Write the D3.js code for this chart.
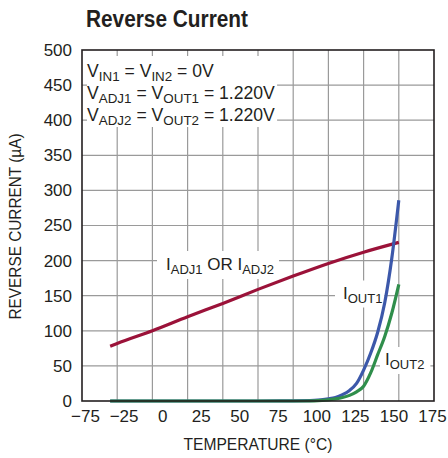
<!DOCTYPE html>
<html><head><meta charset="utf-8">
<script src="https://cdn.jsdelivr.net/npm/d3@7"></script>
<style>
body{margin:0;background:#fff}
svg{display:block}
text{font-family:"Liberation Sans",Arial,Helvetica,sans-serif;fill:#231f20}
</style>
</head><body>
<svg id="chart" width="448" height="458"></svg>
<script>
// ---- data ----
const tempDomain = [-75, 175];
const currentDomain = [0, 500];
const tempGridStep = 25;
const xTickLabels = ["\u221275","\u221225","0","25","50","75","100","125","150","175"];
const yTickValues = [0,50,100,150,200,250,300,350,400,450,500];

const iadjTemp    = [-55,-50,-25,0,25,50,75,100,125,150];
const iadjCurrent = [78,82,100,120,139,159,178,196,212,226];

const ioutTemp     = [-55,0,50,75,90,100,105,110,115,120,125,130,135,140,145,150];
const iout1Current = [0,0,0,0.2,0.8,3,5,9,15,25,44,68,98,140,203,286];
const iout2Current = [0,0,0,0,0.3,1.5,3,5,8,13,21,40,66,92,125,166];

const titleText = "Reverse Current";
const xTitle = "TEMPERATURE (\u00B0C)";
const yTitle = "REVERSE CURRENT (\u00B5A)";

// ---- layout ----
const svg = d3.select("#chart");
const L = 82, R = 434, T = 50, B = 401;
const x = d3.scaleLinear().domain(tempDomain).range([L, R]);
const y = d3.scaleLinear().domain(currentDomain).range([B, T]);
const xLab = d3.scalePoint().domain(xTickLabels).range([85, 432]);

const colors = {adj:"#9b1239", out1:"#3c58aa", out2:"#2f8e4b"};
const gridColor = "#9a9a9a";

// grid
const gridT = d3.range(tempDomain[0], tempDomain[1] + 1, tempGridStep).filter(t => t > tempDomain[0] && t < tempDomain[1]);
svg.append("g").selectAll("line").data(gridT).join("line")
  .attr("x1", d => x(d)).attr("x2", d => x(d)).attr("y1", T).attr("y2", B)
  .attr("stroke", gridColor).attr("stroke-width", 1.2);
svg.append("g").selectAll("line").data(yTickValues.filter(v => v > currentDomain[0] && v < currentDomain[1])).join("line")
  .attr("x1", L).attr("x2", R).attr("y1", d => y(d)).attr("y2", d => y(d))
  .attr("stroke", gridColor).attr("stroke-width", 1.2);

// y tick labels
svg.append("g").attr("transform", `translate(${L},0)`)
  .call(d3.axisLeft(y).tickValues(yTickValues).tickSize(0).tickPadding(10))
  .call(g => g.select(".domain").remove())
  .call(g => g.selectAll("text").attr("font-size", 17).attr("font-family", null).attr("fill", "#231f20"));

// x tick labels
svg.append("g").attr("transform", `translate(0,${B})`)
  .call(d3.axisBottom(xLab).tickSize(0).tickPadding(9))
  .call(g => g.select(".domain").remove())
  .call(g => g.selectAll("text").attr("font-size", 17).attr("font-family", null).attr("fill", "#231f20"));

// rich text helper (subscripts)
function rich(g, px, py, parts, size, subSize) {
  const t = g.append("text").attr("x", px).attr("y", py).attr("font-size", size);
  let lowered = false;
  parts.forEach(([s, sub]) => {
    const ts = t.append("tspan").text(s);
    if (sub && !lowered) { ts.attr("dy", 4).attr("font-size", subSize); lowered = true; }
    else if (sub) { ts.attr("font-size", subSize); }
    else if (!sub && lowered) { ts.attr("dy", -4); lowered = false; }
  });
  return t;
}
function boxed(parent, px, py, parts, padL, padR, padT, padB) {
  const g = parent.append("g");
  const rect = g.append("rect").attr("fill", "#fff");
  const t = rich(g, px, py, parts, 17, 13);
  const bb = t.node().getBBox();
  rect.attr("x", bb.x - padL).attr("y", bb.y - padT)
      .attr("width", bb.width + padL + padR).attr("height", bb.height + padT + padB);
  return g;
}

// annotation box
const ann = svg.append("g");
const annRect = ann.append("rect").attr("fill", "#fff");
const annLines = [
  [["V"],["IN1",1],[" = V"],["IN2",1],[" = 0V"]],
  [["V"],["ADJ1",1],[" = V"],["OUT1",1],[" = 1.220V"]],
  [["V"],["ADJ2",1],[" = V"],["OUT2",1],[" = 1.220V"]]
];
const annBase = [76.5, 98.5, 120.5];
annLines.forEach((p, i) => rich(ann, 87, annBase[i], p, 17.6, 13.4));
{
  const bb = ann.node().getBBox();
  annRect.attr("x", L + 5).attr("y", T + 6).attr("width", bb.x + bb.width + 2 - (L + 5)).attr("height", 127 - (T + 6));
}

// curve labels (boxes under lines)
const labels = svg.append("g");
boxed(labels, 166, 270, [["I"],["ADJ1",1],[" OR I"],["ADJ2",1]], 9, 5, 4, 2);
boxed(labels, 343, 298.5, [["I"],["OUT1",1]], 8, 2, 3, 2);
boxed(labels, 385, 365, [["I"],["OUT2",1]], 5, 6, 3, 2);

// lines
const line = d3.line().curve(d3.curveMonotoneX);
function drawSeries(ts, vs, color) {
  svg.append("path").datum(ts.map((t, i) => [x(t), y(vs[i])]))
    .attr("d", line).attr("fill", "none").attr("stroke", color)
    .attr("stroke-width", 3.2).attr("stroke-linejoin", "round");
}
drawSeries(iadjTemp, iadjCurrent, colors.adj);
drawSeries(ioutTemp, iout1Current, colors.out1);
drawSeries(ioutTemp, iout2Current, colors.out2);

// frame
svg.append("rect").attr("x", L).attr("y", T).attr("width", R - L).attr("height", B - T)
  .attr("fill", "none").attr("stroke", "#231f20").attr("stroke-width", 1.6);

// titles
svg.append("text").attr("x", 86).attr("y", 27).attr("font-size", 23).attr("font-weight", "bold")
  .attr("textLength", 162).attr("lengthAdjust", "spacingAndGlyphs").text(titleText);
svg.append("text").attr("x", (L + R) / 2).attr("y", 449.5).attr("text-anchor", "middle")
  .attr("font-size", 16.5).attr("textLength", 149).attr("lengthAdjust", "spacingAndGlyphs").text(xTitle);
svg.append("text").attr("transform", `translate(20.5,${(T + B) / 2 + 1}) rotate(-90)`).attr("text-anchor", "middle")
  .attr("font-size", 16.5).attr("textLength", 186).attr("lengthAdjust", "spacingAndGlyphs").text(yTitle);
</script>
</body></html>
